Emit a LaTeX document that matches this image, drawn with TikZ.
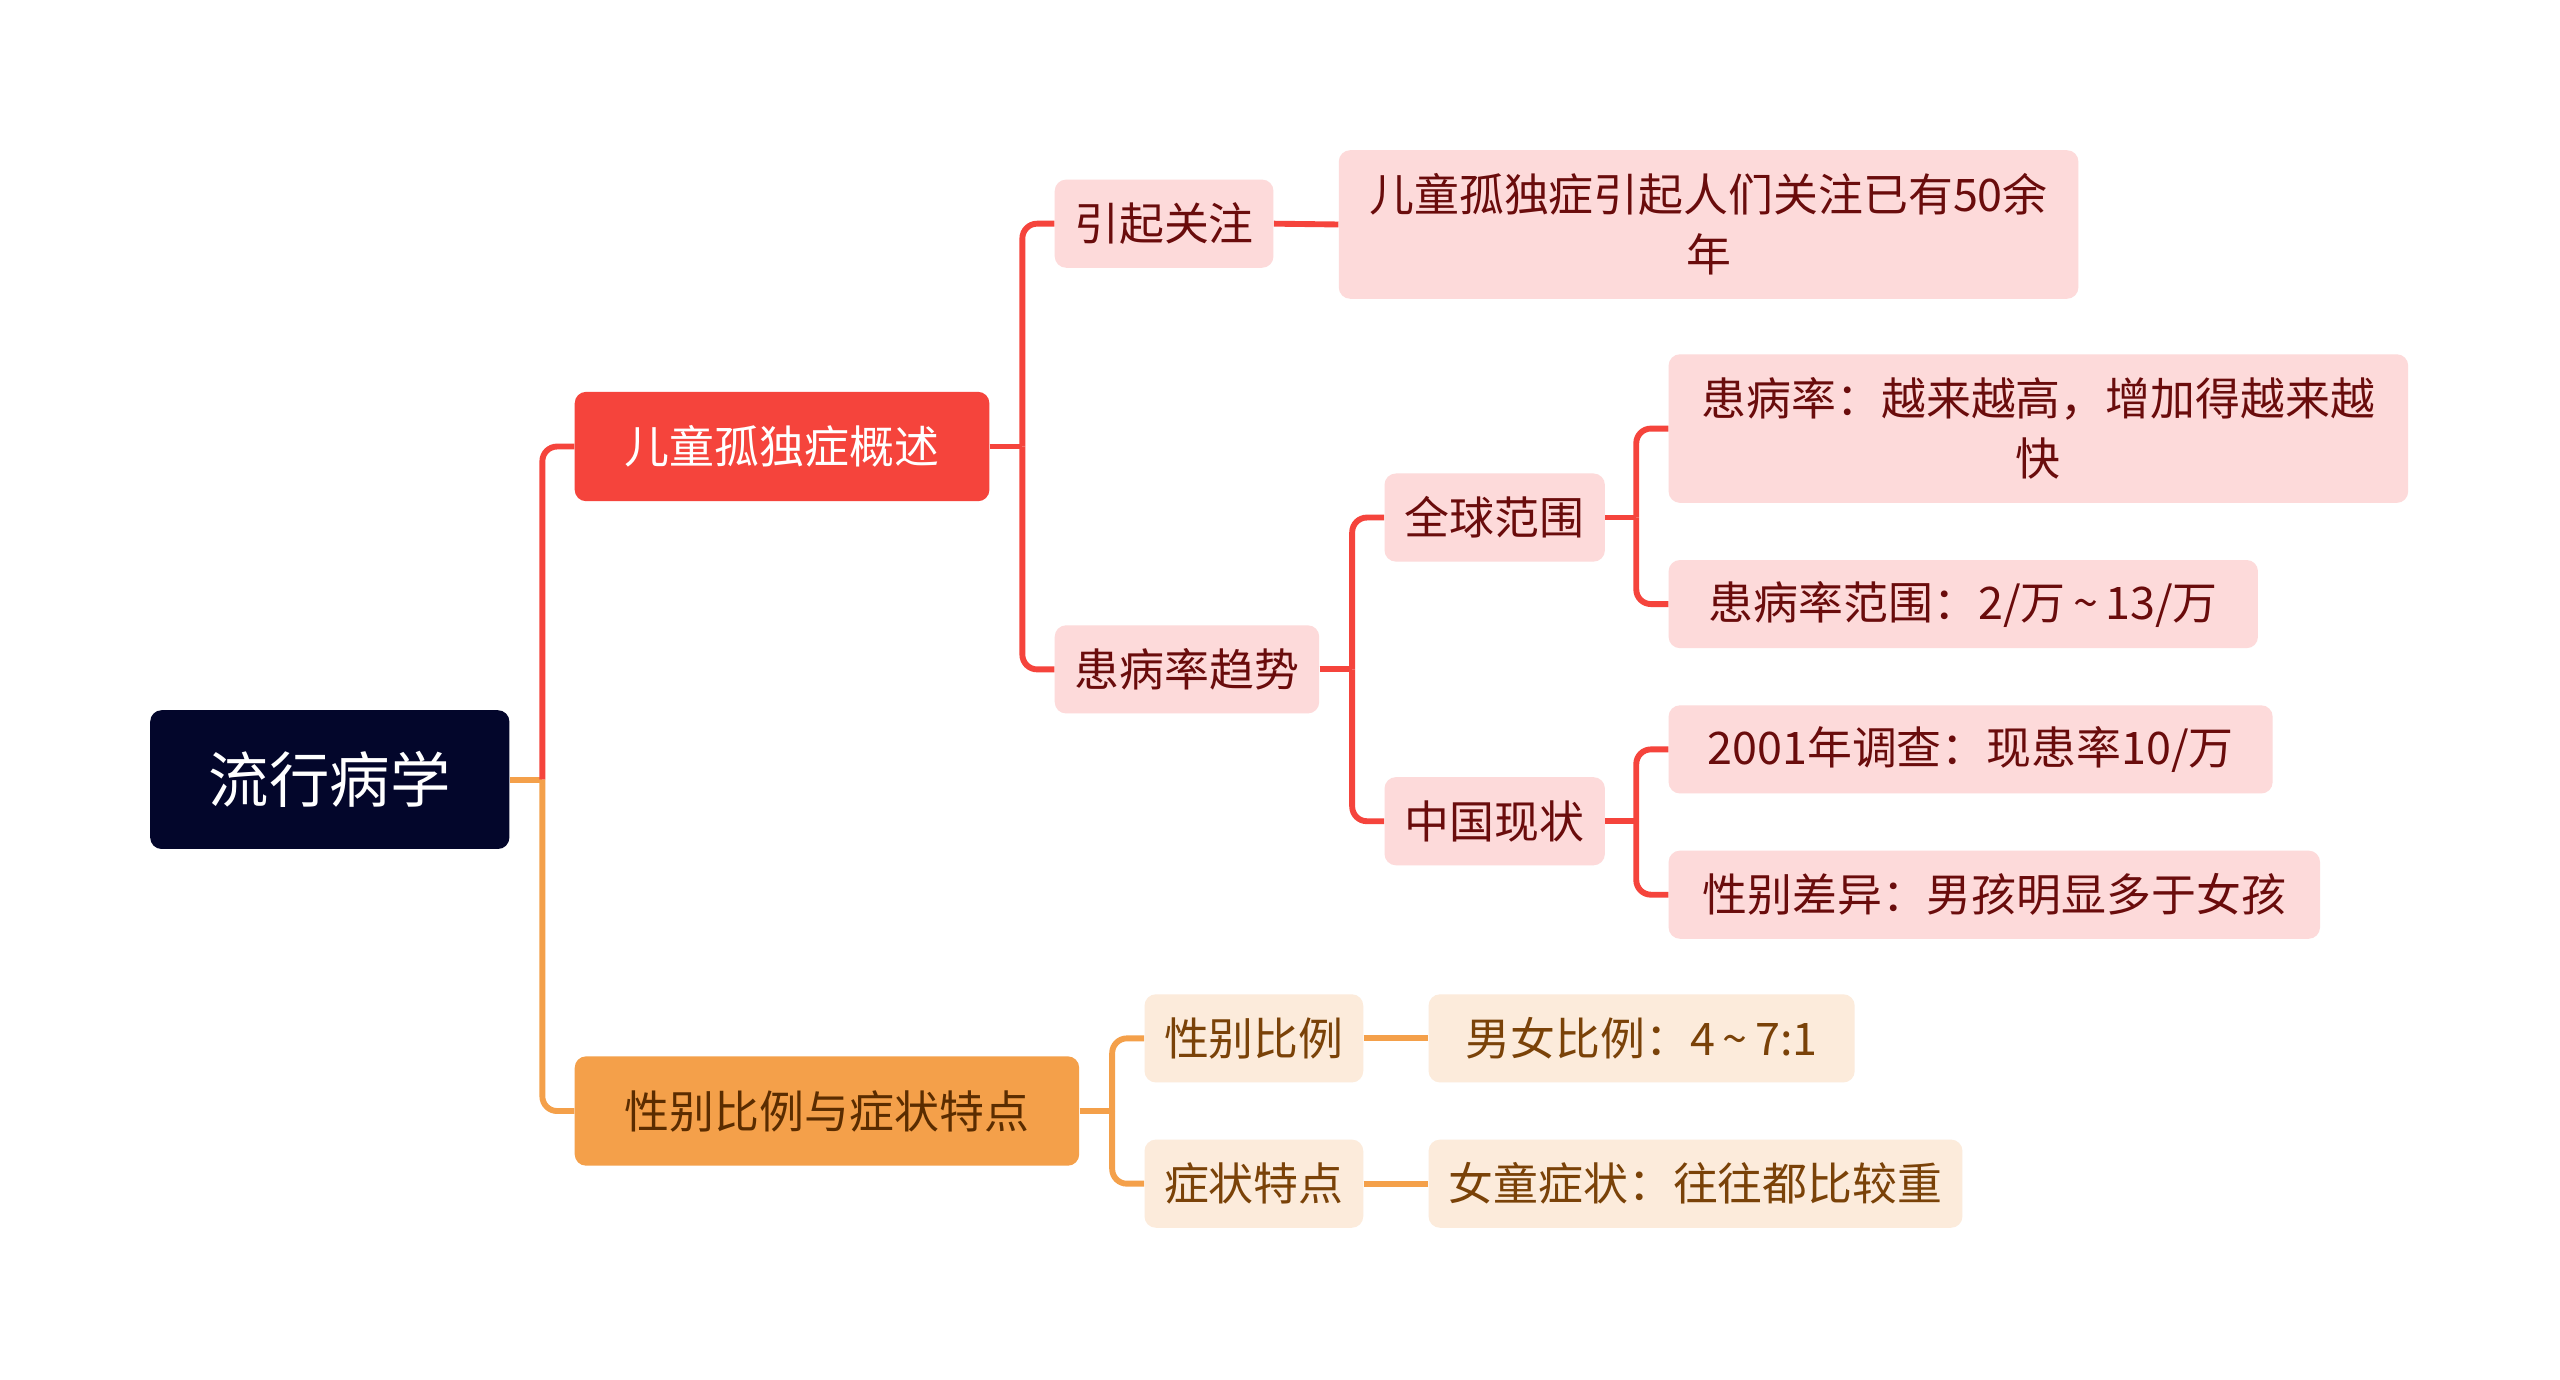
\documentclass[tikz,border=0pt]{standalone}
\usepackage{fontspec}
\setmainfont{Noto Sans CJK SC}
\usetikzlibrary{calc}
\definecolor{rootc}{HTML}{03062B}
\definecolor{redc}{HTML}{F5443C}
\definecolor{pinkc}{HTML}{FDDADA}
\definecolor{redtxt}{HTML}{6A0C0C}
\definecolor{orangec}{HTML}{F4A04A}
\definecolor{peachc}{HTML}{FCEBDB}
\definecolor{browntxt}{HTML}{7A4208}
\definecolor{l1btxt}{HTML}{5A2C00}
\tikzset{
  box/.style={rounded corners=7pt, inner sep=0pt, align=center, font=\fontsize{27.5}{37}\selectfont},
  rootbox/.style={box, fill=rootc, text=white, font=\fontsize{37}{44}\selectfont},
  redbox/.style={box, fill=redc, text=white},
  pinkbox/.style={box, fill=pinkc, text=redtxt},
  orangebox/.style={box, fill=orangec, text=l1btxt},
  peachbox/.style={box, fill=peachc, text=browntxt},
  redline/.style={draw=redc, line width=3.6pt, rounded corners=9pt},
  orangeline/.style={draw=orangec, line width=3.6pt, rounded corners=9pt},
}
\newcommand{\bx}[7]{% name, style, x1, y1, x2, y2, text
  \node[#2, minimum width={(#5-#3)*1pt}, minimum height={(#6-#4)*1pt}] (#1) at ({(#3+#5)/2},{(#4+#6)/2}) {#7};}
\newcommand{\tld}{\,\textasciitilde\,}
\begin{document}
\begin{tikzpicture}[x=1pt,y=-1pt]
\useasboundingbox[fill=white] (0,0) rectangle (1568,845);
\bx{root}{rootbox}{92}{435}{312}{520}{流行病学}
\bx{a}{redbox}{352}{240}{606}{307}{儿童孤独症概述}
\bx{b}{orangebox}{352}{647}{661}{714}{性别比例与症状特点}
\bx{a1}{pinkbox}{646}{110}{780}{164}{引起关注}
\bx{a1x}{pinkbox}{820}{92}{1273}{183}{儿童孤独症引起人们关注已有50余\\年}
\bx{a2}{pinkbox}{646}{383}{808}{437}{患病率趋势}
\bx{g}{pinkbox}{848}{290}{983}{344}{全球范围}
\bx{c}{pinkbox}{848}{476}{983}{530}{中国现状}
\bx{g1}{pinkbox}{1022}{217}{1475}{308}{患病率：越来越高，增加得越来越\\快}
\bx{g2}{pinkbox}{1022}{343}{1383}{397}{患病率范围：2/万\tld 13/万}
\bx{c1}{pinkbox}{1022}{432}{1392}{486}{2001年调查：现患率10/万}
\bx{c2}{pinkbox}{1022}{521}{1421}{575}{性别差异：男孩明显多于女孩}
\bx{b1}{peachbox}{701}{609}{835}{663}{性别比例}
\bx{b2}{peachbox}{701}{698}{835}{752}{症状特点}
\bx{b1x}{peachbox}{875}{609}{1136}{663}{男女比例：4\tld 7:1}
\bx{b2x}{peachbox}{875}{698}{1202}{752}{女童症状：往往都比较重}
% junction points
\coordinate (jr) at ($(root.east)+(20,0)$);
\coordinate (ja) at ($(a.east)+(20,0)$);
\coordinate (ja2) at ($(a2.east)+(20,0)$);
\coordinate (jg) at ($(g.east)+(19,0)$);
\coordinate (jc) at ($(c.east)+(19,0)$);
\coordinate (jb) at ($(b.east)+(20,0)$);
% root
\draw[orangeline] (root.east) -- (jr);
\draw[redline] (jr) |- (a.west);
\draw[orangeline] (jr) |- (b.west);
% a branch
\draw[redline] (a.east) -- (ja);
\draw[redline] (ja) |- (a1.west);
\draw[redline] (ja) |- (a2.west);
\draw[redline] (a1.east) -- (a1x.west);
\draw[redline] (a2.east) -- (ja2);
\draw[redline] (ja2) |- (g.west);
\draw[redline] (ja2) |- (c.west);
\draw[redline] (g.east) -- (jg);
\draw[redline] (jg) |- (g1.west);
\draw[redline] (jg) |- (g2.west);
\draw[redline] (c.east) -- (jc);
\draw[redline] (jc) |- (c1.west);
\draw[redline] (jc) |- (c2.west);
% b branch
\draw[orangeline] (b.east) -- (jb);
\draw[orangeline] (jb) |- (b1.west);
\draw[orangeline] (jb) |- (b2.west);
\draw[orangeline] (b1.east) -- (b1x.west);
\draw[orangeline] (b2.east) -- (b2x.west);
\end{tikzpicture}
\end{document}
